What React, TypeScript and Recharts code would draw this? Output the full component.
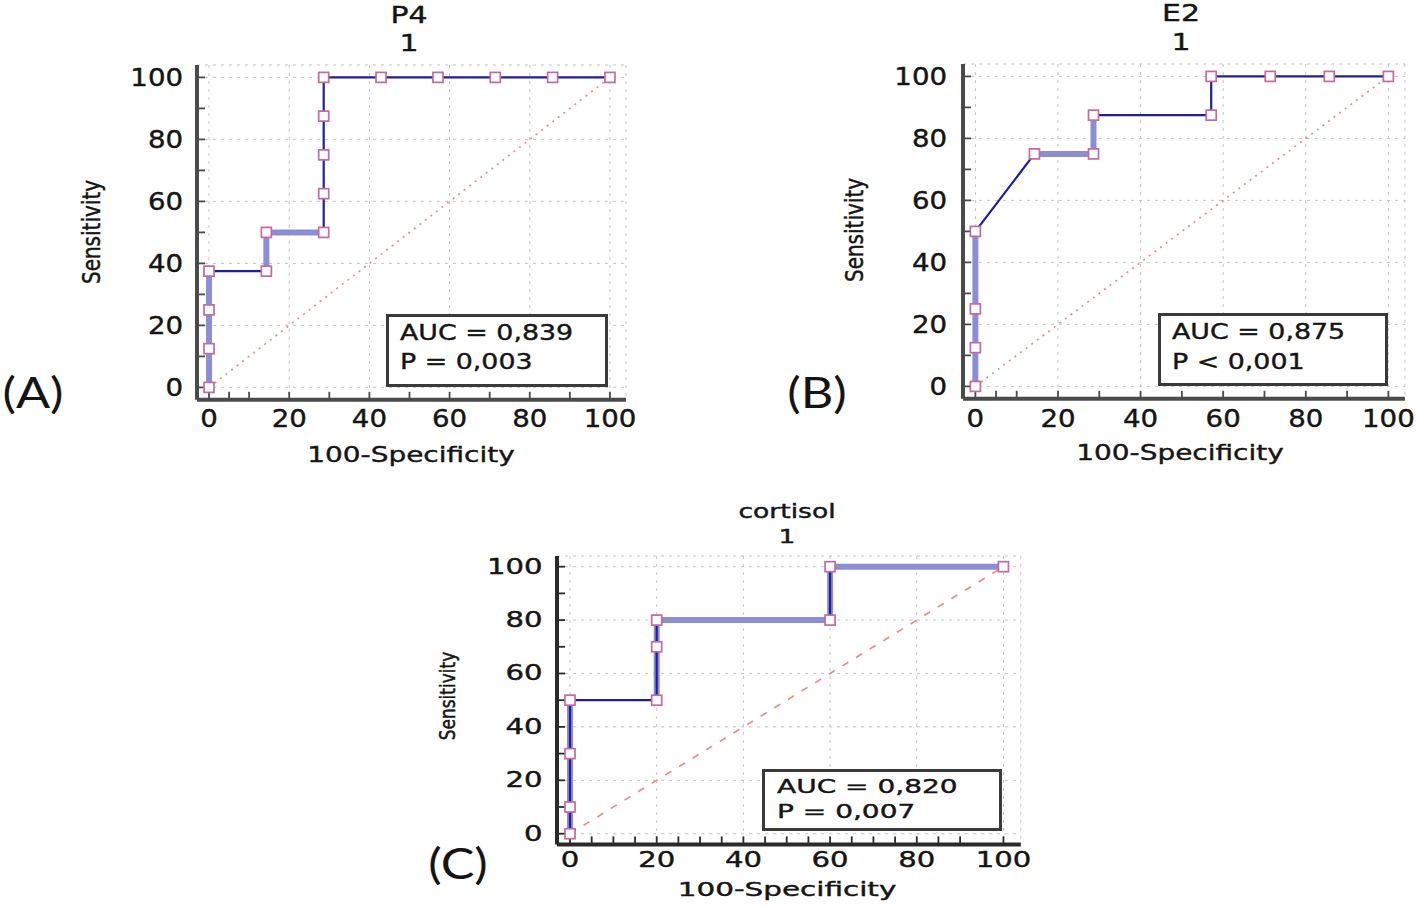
import React from "react";
import { ComposedChart, Line, Scatter, XAxis, YAxis, CartesianGrid } from "recharts";

// ROC points: 100-Specificity (x) and Sensitivity (y)
const p4Fpr = [0, 0, 0, 0, 14.3, 14.3, 28.6, 28.6, 28.6, 28.6, 28.6, 42.9, 57.1, 71.4, 85.7, 100];
const p4Sens = [0, 12.5, 25, 37.5, 37.5, 50, 50, 62.5, 75, 87.5, 100, 100, 100, 100, 100, 100];
// segment kind between neighbours: 0 thin dark, 1 thick light, 2 both
const p4Kind = [1, 1, 1, 0, 1, 1, 0, 0, 0, 0, 0, 0, 0, 0, 0];

const e2Fpr = [0, 0, 0, 0, 14.3, 28.6, 28.6, 57.1, 57.1, 71.4, 85.7, 100];
const e2Sens = [0, 12.5, 25, 50, 75, 75, 87.5, 87.5, 100, 100, 100, 100];
const e2Kind = [1, 1, 1, 0, 1, 1, 0, 0, 0, 0, 0];

const corFpr = [0, 0, 0, 0, 20, 20, 20, 60, 60, 100];
const corSens = [0, 10, 30, 50, 50, 70, 80, 80, 100, 100];
const corKind = [2, 2, 2, 0, 2, 2, 1, 2, 1];

const chanceX = [0, 100];
const chanceY = [0, 100];

const majorTicks = [0, 20, 40, 60, 80, 100];
const minorTicks = [0, 5, 10, 15, 20, 25, 30, 35, 40, 45, 50, 55, 60, 65, 70, 75, 80, 85, 90, 95, 100];

const FONT = "DejaVu Sans";
const INK = "#151515";
const DARK = "#1f1f9c";
const LIGHT = "#8d8dd6";

type Pt = { x: number; y: number };

function toPts(xs: number[], ys: number[]): Pt[] {
  return xs.map((x, i) => ({ x, y: ys[i] }));
}

// split the curve into connected runs of one style
function runs(pts: Pt[], kind: number[], thick: boolean): Pt[][] {
  const out: Pt[][] = [];
  let cur: Pt[] = [];
  kind.forEach((k, i) => {
    const on = thick ? k >= 1 : k !== 1;
    if (on) {
      if (cur.length === 0) cur.push(pts[i]);
      cur.push(pts[i + 1]);
    } else if (cur.length) {
      out.push(cur);
      cur = [];
    }
  });
  if (cur.length) out.push(cur);
  return out;
}

function T({ x, y, size, sx = 1, rot = 0, anchor = "middle", family = FONT, children }: any) {
  const tr =
    anchor === "middle"
      ? `translate(-50%,-50%) scaleX(${sx}) rotate(${rot}deg)`
      : `translate(0,-50%) scaleX(${sx})`;
  return (
    <div
      style={{
        position: "absolute",
        left: x,
        top: y,
        transform: tr,
        transformOrigin: anchor === "middle" ? "center" : "left center",
        fontSize: size,
        fontFamily: family,
        color: INK,
        WebkitTextStroke: family === FONT ? "0.4px " + INK : undefined,
        whiteSpace: "nowrap",
        lineHeight: 1,
      }}
    >
      {children}
    </div>
  );
}

const Square = (p: any) => (
  <rect x={p.cx - 5} y={p.cy - 5} width={10} height={10} fill="#fff" stroke="#c46a9c" strokeWidth={1.7} />
);

const NoLabel = () => <g />;

type PanelProps = {
  fpr: number[];
  sens: number[];
  kind: number[];
  left: number;
  top: number;
  w: number;
  h: number;
  fs: number;
  sx: number;
  axisColor: string;
  chanceDash: string;
  yGap: number;
  xGap: number;
};

function Panel({ fpr, sens, kind, left, top, w, h, fs, sx, axisColor, chanceDash, yGap, xGap }: PanelProps) {
  const pts = toPts(fpr, sens);
  const chance = toPts(chanceX, chanceY);
  const thick = runs(pts, kind, true);
  const thin = runs(pts, kind, false);
  const tickText = (anchor: string) => (p: any) => (
    <text
      transform={`translate(${p.x},${p.y}) scale(${sx},1)`}
      textAnchor={anchor}
      dominantBaseline="central"
      fontSize={fs}
      fontFamily={FONT}
      fill={INK}
      stroke={INK}
      strokeWidth={0.4}
    >
      {p.payload.value}
    </text>
  );
  return (
    <div style={{ position: "absolute", left: left - 70, top: top - 10 }}>
      <ComposedChart width={w + 80} height={h + 60} margin={{ top: 10, right: 10, bottom: 10, left: 10 }}>
        <CartesianGrid stroke="#c4c4c4" strokeDasharray="3 5" />
        <XAxis
          dataKey="x"
          type="number"
          domain={[-3, 104]}
          ticks={majorTicks}
          allowDataOverflow
          height={40}
          tickSize={6}
          tickMargin={xGap - 6}
          tickLine={false}
          axisLine={{ stroke: axisColor, strokeWidth: 4 }}
          tick={tickText("middle")}
        />
        <YAxis
          dataKey="y"
          type="number"
          domain={[-4, 104]}
          ticks={majorTicks}
          allowDataOverflow
          width={60}
          tickSize={6}
          tickMargin={yGap - 6}
          tickLine={false}
          axisLine={{ stroke: axisColor, strokeWidth: 4 }}
          tick={tickText("end")}
        />
        <XAxis
          xAxisId="m"
          dataKey="x"
          type="number"
          domain={[-3, 104]}
          ticks={minorTicks}
          allowDataOverflow
          mirror
          tick={NoLabel}
          tickSize={8}
          axisLine={false}
          tickLine={{ stroke: axisColor, strokeWidth: 1.8 }}
        />
        <YAxis
          yAxisId="m"
          dataKey="y"
          type="number"
          domain={[-4, 104]}
          ticks={minorTicks}
          allowDataOverflow
          mirror
          tick={NoLabel}
          tickSize={8}
          axisLine={false}
          tickLine={{ stroke: axisColor, strokeWidth: 1.8 }}
        />
        <Line
          data={chance}
          dataKey="y"
          stroke="#e0908c"
          strokeWidth={1.7}
          strokeDasharray={chanceDash}
          dot={false}
          isAnimationActive={false}
        />
        {thick.map((r, i) => (
          <Line key={"t" + i} data={r} dataKey="y" stroke={LIGHT} strokeWidth={6} dot={false} isAnimationActive={false} />
        ))}
        {thin.map((r, i) => (
          <Line key={"n" + i} data={r} dataKey="y" stroke={DARK} strokeWidth={2.2} dot={false} isAnimationActive={false} />
        ))}
        <Scatter data={pts} dataKey="y" shape={Square} isAnimationActive={false} />
        <Scatter data={pts} dataKey="y" xAxisId="m" yAxisId="m" shape={NoLabel} isAnimationActive={false} />
      </ComposedChart>
    </div>
  );
}

function AucBox({ left, top, w, h, fs, sx, l1, l2, tx, y1, y2 }: any) {
  return (
    <>
      <div
        style={{
          position: "absolute",
          left,
          top,
          width: w,
          height: h,
          boxSizing: "border-box",
          border: "3px solid #3a3a3a",
          background: "#fff",
        }}
      />
      <T x={tx} y={y1} size={fs} sx={sx} anchor="start">
        {l1}
      </T>
      <T x={tx} y={y2} size={fs} sx={sx} anchor="start">
        {l2}
      </T>
    </>
  );
}

export default function App() {
  return (
    <div style={{ position: "absolute", left: 0, top: 0, width: 1416, height: 908, background: "#fff", overflow: "hidden" }}>
      {/* (A) P4 */}
      <Panel fpr={p4Fpr} sens={p4Sens} kind={p4Kind} left={197} top={65.1} w={429} h={334.8} fs={24} sx={1.15}
        axisColor="#4a4a4a" chanceDash="2 5" yGap={14} xGap={19} />
      <T x={409} y={15} size={23} sx={1.3}>P4</T>
      <T x={409} y={43} size={23} sx={1.3}>1</T>
      <T x={92} y={232} size={20} sx={1.2} rot={-90}>Sensitivity</T>
      <T x={411} y={455} size={22} sx={1.27}>100-Specificity</T>
      <T x={33} y={392} size={42} sx={1.2} family="Lato">(A)</T>
      <AucBox left={386} top={314} w={222} h={73} fs={22} sx={1.22} l1="AUC = 0,839" l2="P = 0,003" tx={400} y1={333} y2={362} />

      {/* (B) E2 */}
      <Panel fpr={e2Fpr} sens={e2Sens} kind={e2Kind} left={962.6} top={63.6} w={441.9} h={334.8} fs={24} sx={1.15}
        axisColor="#4a4a4a" chanceDash="2 5" yGap={16} xGap={20} />
      <T x={1181} y={13} size={23} sx={1.3}>E2</T>
      <T x={1181} y={42} size={23} sx={1.3}>1</T>
      <T x={855} y={230} size={20} sx={1.2} rot={-90}>Sensitivity</T>
      <T x={1180} y={453} size={22} sx={1.27}>100-Specificity</T>
      <T x={817} y={392} size={42} sx={1.2} family="Lato">(B)</T>
      <AucBox left={1158} top={313} w={230} h={73} fs={22} sx={1.22} l1="AUC = 0,875" l2="P < 0,001" tx={1172} y1={332} y2={362} />

      {/* (C) cortisol */}
      <Panel fpr={corFpr} sens={corSens} kind={corKind} left={557} top={555.8} w={463.8} h={288.4} fs={20.5} sx={1.42}
        axisColor="#2a2a2a" chanceDash="7 9" yGap={14.5} xGap={16} />
      <T x={787} y={511} size={19} sx={1.4}>cortisol</T>
      <T x={787} y={536} size={19} sx={1.4}>1</T>
      <T x={448} y={696} size={17} sx={1.25} rot={-90}>Sensitivity</T>
      <T x={787} y={889} size={19} sx={1.55}>100-Specificity</T>
      <T x={458} y={863} size={42} sx={1.2} family="Lato">(C)</T>
      <AucBox left={762} top={769} w={240} h={62} fs={20} sx={1.4} l1="AUC = 0,820" l2="P = 0,007" tx={777} y1={786} y2={811} />
    </div>
  );
}
